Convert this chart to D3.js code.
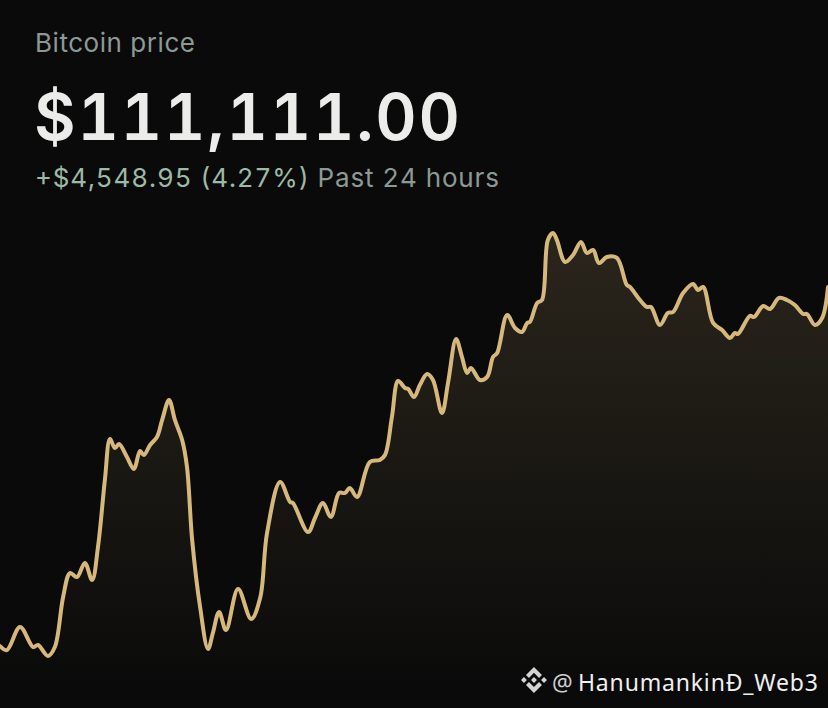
<!DOCTYPE html>
<html>
<head>
<meta charset="utf-8">
<script src="https://cdn.jsdelivr.net/npm/d3@7"></script>
<style>
  html, body { margin: 0; padding: 0; background: #0a0a0a; }
  svg { display: block; }
  .num { font-variant-numeric: tabular-nums; font-feature-settings: "tnum" 1; }
</style>
</head>
<body>
<svg id="chart" width="828" height="708"></svg>
<script>
// hours since start of the 24h window
const hours = [
  0.00, 0.20, 0.58, 0.96, 1.10, 1.39, 1.59, 1.83, 2.03, 2.23, 2.46, 2.67, 2.84, 3.04, 3.19, 3.33,
  3.45, 3.68, 3.88, 4.06, 4.17, 4.35, 4.55, 4.70, 4.90, 5.07, 5.28, 5.42, 5.57, 5.80, 6.03, 6.17,
  6.35, 6.55, 6.90, 7.28, 7.54, 7.74, 8.12, 8.41, 8.49, 8.93, 9.13, 9.36, 9.59, 9.83, 10.00, 10.14,
  10.35, 10.72, 11.01, 11.16, 11.36, 11.54, 11.74, 11.83, 12.00, 12.17, 12.38, 12.55, 12.81, 12.99,
  13.22, 13.39, 13.54, 13.65, 13.91, 14.12, 14.29, 14.41, 14.70, 14.93, 15.13, 15.28, 15.36, 15.57,
  15.71, 15.88, 16.03, 16.14, 16.38, 16.61, 16.84, 17.01, 17.19, 17.36, 17.59, 17.88, 18.17, 18.26,
  18.55, 18.75, 18.87, 19.13, 19.36, 19.51, 19.80, 20.09, 20.23, 20.38, 20.67, 20.93, 21.16, 21.30,
  21.39, 21.74, 21.86, 22.12, 22.32, 22.58, 22.81, 23.04, 23.28, 23.39, 23.62, 23.83, 24.00
];

// BTC price in USD
const prices = [
  106562, 106511, 106803, 106549, 106575, 106435, 106549, 107183, 107487, 107436, 107614, 107398, 107817, 108666, 109185, 109071,
  109122, 108957, 108805, 109033, 108982, 109109, 109210, 109426, 109679, 109426, 109172, 108830, 107905, 107056, 106524, 106727,
  106993, 106765, 107284, 106904, 107170, 107994, 108640, 108387, 108374, 108007, 108184, 108374, 108197, 108501, 108501, 108564,
  108450, 108894, 108919, 108982, 109464, 109920, 109831, 109819, 109717, 109869, 110009, 109933, 109515, 109907,
  110452, 110224, 110021, 110085, 109933, 109971, 110224, 110275, 110756, 110591, 110541, 110655, 110668, 110908,
  110946, 111707, 111795, 111707, 111428, 111516, 111681, 111542, 111580, 111415, 111491, 111479, 111136, 111111,
  110946, 110858, 110858, 110630, 110782, 110794, 111035, 111149, 111073, 111111, 110655, 110566, 110465, 110528,
  110516, 110744, 110731, 110870, 110832, 110972, 110946, 110883, 110769, 110769, 110630, 110718, 111111
];

const title = "Bitcoin price";
const currentPrice = "$111,111.00";
const changeText = "+$4,548.95 (4.27%)";
const periodText = "Past 24 hours";
const handle = "HanumankinĐ_Web3";

const svg = d3.select("#chart");
const width = +svg.attr("width");
const height = +svg.attr("height");

const data = hours.map((h, i) => ({ h: h, p: prices[i] }));

const x = d3.scaleLinear().domain([0, 24]).range([0, width]);
const y = d3.scaleLinear().domain([106000, 112000]).range([690.4, 216.8]);

svg.append("rect")
    .attr("width", width)
    .attr("height", height)
    .attr("fill", "#0a0a0a");

const defs = svg.append("defs");
const grad = defs.append("linearGradient")
    .attr("id", "areaFill")
    .attr("gradientUnits", "userSpaceOnUse")
    .attr("x1", 0).attr("x2", 0)
    .attr("y1", 230).attr("y2", 690);
grad.append("stop").attr("offset", "0%").attr("stop-color", "#d8b97c").attr("stop-opacity", 0.16);
grad.append("stop").attr("offset", "100%").attr("stop-color", "#d8b97c").attr("stop-opacity", 0);

const curve = d3.curveCatmullRom.alpha(0.5);

const area = d3.area()
    .x(d => x(d.h))
    .y0(height)
    .y1(d => y(d.p))
    .curve(curve);

const line = d3.line()
    .x(d => x(d.h))
    .y(d => y(d.p))
    .curve(curve);

svg.append("path")
    .datum(data)
    .attr("d", area)
    .attr("fill", "url(#areaFill)");

svg.append("path")
    .datum(data)
    .attr("d", line)
    .attr("fill", "none")
    .attr("stroke", "#d7b87c")
    .attr("stroke-width", 4)
    .attr("stroke-linejoin", "round")
    .attr("stroke-linecap", "round");

// header
const font = "Inter, 'Noto Sans', sans-serif";

svg.append("text")
    .attr("x", 35)
    .attr("y", 52)
    .attr("font-family", font)
    .attr("font-size", 26)
    .attr("fill", "#8d9a93")
    .attr("textLength", 160)
    .attr("lengthAdjust", "spacing")
    .text(title);

svg.append("text")
    .attr("class", "num")
    .attr("x", 34)
    .attr("y", 140)
    .attr("font-family", font)
    .attr("font-size", 64)
    .attr("font-weight", 600)
    .attr("fill", "#ececea")
    .attr("textLength", 426)
    .attr("lengthAdjust", "spacing")
    .text(currentPrice);

const sub = svg.append("text")
    .attr("class", "num")
    .attr("x", 35)
    .attr("y", 187)
    .attr("font-family", font)
    .attr("font-size", 26)
    .attr("textLength", 464)
    .attr("lengthAdjust", "spacing");
sub.append("tspan").attr("fill", "#9dbaa6").text(changeText);
sub.append("tspan").attr("fill", "#8d9a93").text(" " + periodText);

// watermark
const logo = svg.append("g")
    .attr("transform", "translate(521,667) scale(0.205)")
    .attr("fill", "#d4d4d4");
[
  "M38.73,53.2,63.3,28.63,87.88,53.21l14.3-14.3L63.3,0,24.43,38.88Z",
  "M0,63.31l14.3-14.3,14.3,14.3-14.3,14.3Z",
  "M38.73,73.41,63.3,98l24.58-24.58,14.3,14.29,0,0L63.3,126.61,24.43,87.74l0,0Z",
  "M98,63.31l14.3-14.3,14.3,14.3-14.3,14.3Z",
  "M77.83,63.3L63.3,48.76,48.78,63.27,63.3,77.77,77.83,63.3Z"
].forEach(d => logo.append("path").attr("d", d));

svg.append("text")
    .attr("x", 552)
    .attr("y", 691)
    .attr("font-family", "'Noto Sans', sans-serif")
    .attr("font-size", 23)
    .attr("fill", "#cfcfcf")
    .text("@");

svg.append("text")
    .attr("x", 578)
    .attr("y", 691)
    .attr("font-family", "'Noto Sans', sans-serif")
    .attr("font-size", 23)
    .attr("fill", "#f0f0f0")
    .attr("textLength", 240)
    .attr("lengthAdjust", "spacing")
    .text(handle);
</script>
</body>
</html>
